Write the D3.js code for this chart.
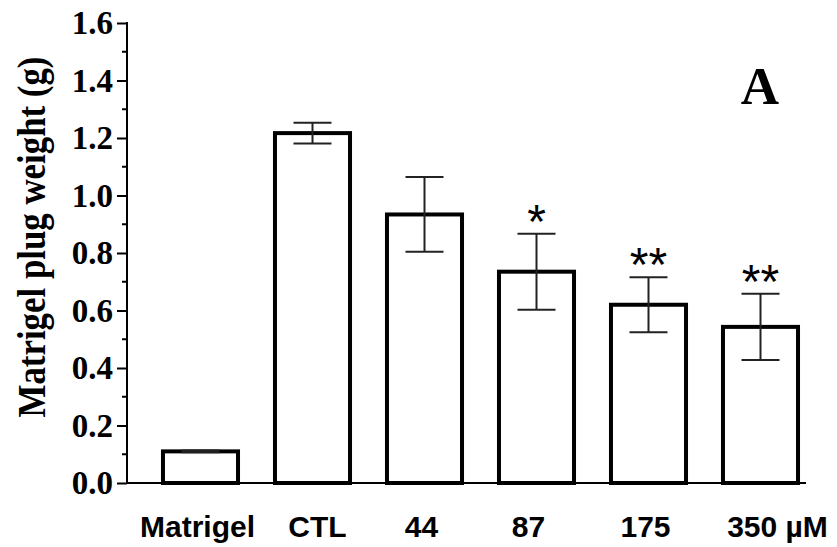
<!DOCTYPE html>
<html>
<head>
<meta charset="utf-8">
<script src="https://cdn.jsdelivr.net/npm/d3@7"></script>
<style>
  body { margin: 0; background: #fff; }
</style>
</head>
<body>
<div id="chart"></div>
<script>
(function() {
  // data
  var groups = ['Matrigel', 'CTL', '44', '87', '175', '350 µM'],
      means = [0.110, 1.217, 0.934, 0.735, 0.620, 0.543],
      sems = [0.003, 0.036, 0.130, 0.132, 0.096, 0.115],
      stars = ['', '', '', '*', '**', '**'],
      yTicks = [0, 0.2, 0.4, 0.6, 0.8, 1.0, 1.2, 1.4, 1.6];

  var W = 837, H = 547;

  var svg = d3.select('#chart').append('svg')
    .attr('width', W)
    .attr('height', H);

  var y = d3.scaleLinear().domain([0, 1.6]).range([483, 23]);
  var x = d3.scaleBand().domain(groups)
    .range([144.5, 816.5])
    .paddingInner(0.33)
    .paddingOuter(0.165);

  // y axis
  var yAxis = svg.append('g')
    .attr('transform', 'translate(127,0)')
    .call(d3.axisLeft(y).tickValues(yTicks).tickSize(10).tickPadding(4)
      .tickFormat(d3.format('.1f')));
  yAxis.select('.domain').remove();
  yAxis.selectAll('line').attr('stroke', '#000').attr('stroke-width', 2);
  yAxis.selectAll('text')
    .attr('font-family', '"Liberation Serif", "Times New Roman", serif')
    .attr('font-weight', 'bold')
    .attr('font-size', 33)
    .attr('fill', '#000');

  // minor ticks
  svg.append('g').selectAll('line')
    .data(d3.range(0.1, 1.6, 0.2))
    .join('line')
    .attr('x1', 122).attr('x2', 127)
    .attr('y1', function(d) { return y(d); })
    .attr('y2', function(d) { return y(d); })
    .attr('stroke', '#000').attr('stroke-width', 2);

  svg.append('line')
    .attr('x1', 127).attr('x2', 127)
    .attr('y1', y(1.6) - 1).attr('y2', y(0))
    .attr('stroke', '#000').attr('stroke-width', 2);

  // bars
  svg.append('g').selectAll('rect')
    .data(groups)
    .join('rect')
    .attr('x', function(d) { return x(d); })
    .attr('y', function(d, i) { return y(means[i]); })
    .attr('width', x.bandwidth())
    .attr('height', function(d, i) { return y(0) - y(means[i]); })
    .attr('fill', '#fff')
    .attr('stroke', '#000')
    .attr('stroke-width', 4);

  // x axis line
  svg.append('line')
    .attr('x1', 127).attr('x2', 806)
    .attr('y1', y(0)).attr('y2', y(0))
    .attr('stroke', '#000').attr('stroke-width', 2);

  // error bars
  var eb = svg.append('g').attr('stroke', '#222').attr('stroke-width', 2);
  groups.forEach(function(g, i) {
    var cx = x(g) + x.bandwidth() / 2,
        hi = y(means[i] + sems[i]),
        lo = y(means[i] - sems[i]);
    eb.append('line').attr('x1', cx).attr('x2', cx).attr('y1', hi).attr('y2', lo);
    eb.append('line').attr('x1', cx - 19).attr('x2', cx + 19).attr('y1', hi).attr('y2', hi);
    eb.append('line').attr('x1', cx - 19).attr('x2', cx + 19).attr('y1', lo).attr('y2', lo);
  });

  // significance stars
  svg.append('g').selectAll('text')
    .data(groups)
    .join('text')
    .attr('x', function(d) { return x(d) + x.bandwidth() / 2; })
    .attr('y', function(d, i) { return y(means[i] + sems[i]) + 4; })
    .attr('text-anchor', 'middle')
    .attr('font-family', '"Liberation Sans", Arial, sans-serif')
    .attr('font-size', 48)
    .attr('fill', '#000')
    .text(function(d, i) { return stars[i]; });

  // x labels
  svg.append('g').selectAll('text')
    .data(groups)
    .join('text')
    .attr('x', function(d) { return x(d) + x.bandwidth() / 2; })
    .attr('y', 537)
    .attr('dx', function(d, i) { return i == 1 ? 5 : i == 5 ? 17 : i == 3 ? -8 : -3; })
    .attr('text-anchor', 'middle')
    .attr('font-family', '"Liberation Sans", Arial, sans-serif')
    .attr('font-weight', 'bold')
    .attr('font-size', 30)
    .attr('fill', '#000')
    .text(function(d) { return d; });

  // y label (condensed serif)
  svg.append('text')
    .attr('transform', 'translate(45,237) rotate(-90) scale(0.85,1)')
    .attr('text-anchor', 'middle')
    .attr('font-family', '"Liberation Serif", "Times New Roman", serif')
    .attr('font-weight', 'bold')
    .attr('font-size', 41)
    .attr('fill', '#000')
    .text('Matrigel plug weight (g)');

  // panel letter
  svg.append('text')
    .attr('x', 760).attr('y', 104)
    .attr('text-anchor', 'middle')
    .attr('font-family', '"Liberation Serif", "Times New Roman", serif')
    .attr('font-weight', 'bold')
    .attr('font-size', 53)
    .attr('fill', '#000')
    .text('A');
})()
</script>
</body>
</html>
